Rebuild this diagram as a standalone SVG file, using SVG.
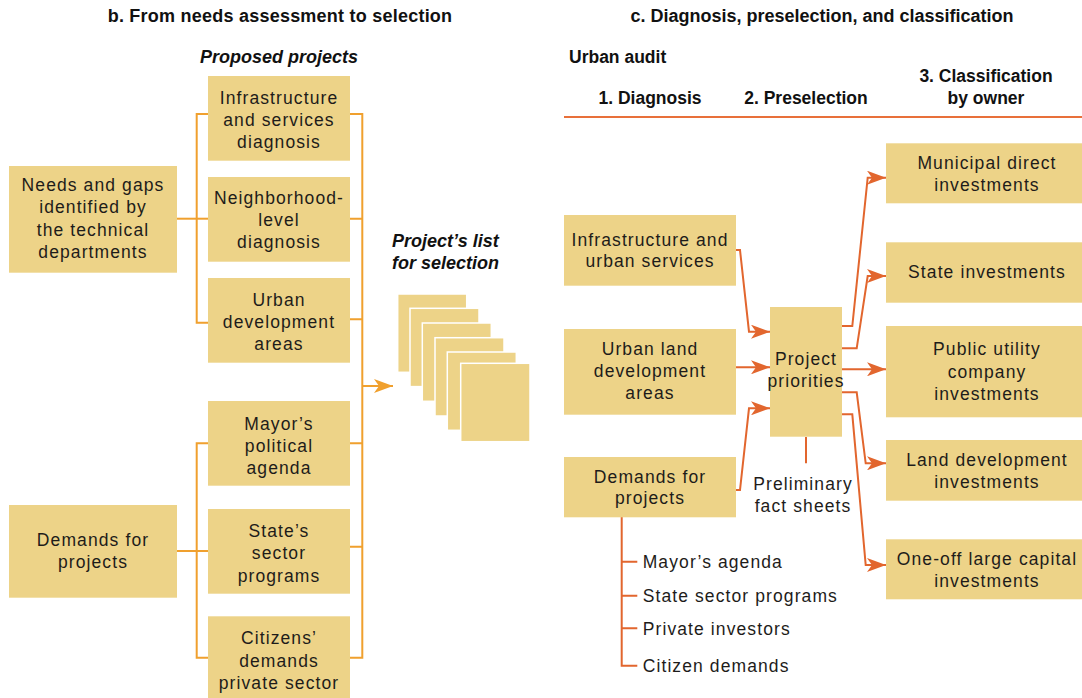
<svg xmlns="http://www.w3.org/2000/svg" width="1082" height="698" viewBox="0 0 1082 698">
  <style>
    .box { fill: #EDD388; }
    .page { fill: #EDD388; stroke: #FFFFFF; stroke-width: 1.5; }
    .t { font-family: "Liberation Sans", Arial, sans-serif; font-size: 17.5px; letter-spacing: 1.1px; fill: #1E1C1A; text-anchor: middle; }
    .tl { text-anchor: start; }
    .title { font-family: "Liberation Sans", Arial, sans-serif; font-size: 18px; font-weight: bold; fill: #111; text-anchor: middle; }
    .head { font-family: "Liberation Sans", Arial, sans-serif; font-size: 17.5px; font-weight: bold; fill: #111; }
    .bi { font-family: "Liberation Sans", Arial, sans-serif; font-size: 18px; font-weight: bold; font-style: italic; fill: #111; }
    .yl { fill: none; stroke: #F0A02E; stroke-width: 2; }
    .rl { fill: none; stroke: #E2662E; stroke-width: 2; }
  </style>
  <defs>
    <marker id="arrowY" markerUnits="userSpaceOnUse" viewBox="0 0 19 14" refX="19" refY="7" markerWidth="19" markerHeight="14" orient="auto">
      <path d="M0,0 L19,7 L0,14 L5,7 Z" fill="#F0A02E"/>
    </marker>
    <marker id="arrowR" markerUnits="userSpaceOnUse" viewBox="0 0 19 14" refX="19" refY="7" markerWidth="19" markerHeight="14" orient="auto">
      <path d="M0,0 L19,7 L0,14 L5,7 Z" fill="#E2662E"/>
    </marker>
  </defs>

  <rect width="1082" height="698" fill="#FFFFFF"/>

  <!-- section titles -->
  <text class="title" x="280" y="22" style="letter-spacing:0.23px">b. From needs assessment to selection</text>
  <text class="title" x="822" y="22">c. Diagnosis, preselection, and classification</text>
  <text class="bi" x="279" y="63" text-anchor="middle">Proposed projects</text>
  <text class="bi" x="392" y="247">Project’s list</text>
  <text class="bi" x="392" y="269">for selection</text>

  <!-- column headers of the urban audit -->
  <text class="head" x="569" y="63">Urban audit</text>
  <text class="head" x="650" y="104" text-anchor="middle">1. Diagnosis</text>
  <text class="head" x="806" y="104" text-anchor="middle">2. Preselection</text>
  <text class="head" x="986" y="82" text-anchor="middle">3. Classification</text>
  <text class="head" x="986" y="104" text-anchor="middle">by owner</text>

  <!-- connectors -->
  <g id="connectors">
    <!-- left panel brackets -->
    <path class="yl" d="M177,218.7 H208"/>
    <path class="yl" d="M208,114 H196.7 V322.7 H208"/>
    <path class="yl" d="M177,551 H208"/>
    <path class="yl" d="M208,443.3 H196.7 V657.7 H208"/>
    <path class="yl" d="M350,114 H362.3 V657.7 H350"/>
    <path class="yl" d="M350,218.7 H362.3 M350,319.3 H362.3 M350,443.3 H362.3 M350,546.7 H362.3"/>
    <path class="yl" d="M362.3,386 H393" marker-end="url(#arrowY)"/>

    <!-- header rule -->
    <path d="M564,117 H1082" stroke="#E8703A" stroke-width="2" fill="none"/>

    <!-- inputs to project priorities -->
    <path class="rl" d="M736,250 H740 L749,331.7 H770" marker-end="url(#arrowR)"/>
    <path class="rl" d="M736,367.3 H770" marker-end="url(#arrowR)"/>
    <path class="rl" d="M736,490 H740 L749,408.3 H770" marker-end="url(#arrowR)"/>
    <path class="rl" d="M806,437 V463.3"/>

    <!-- outputs to owners -->
    <path class="rl" d="M842,326 H852.3 L867.7,177.7 H886" marker-end="url(#arrowR)"/>
    <path class="rl" d="M842,348.3 H856.7 L867.7,276 H886" marker-end="url(#arrowR)"/>
    <path class="rl" d="M842,369.3 H886" marker-end="url(#arrowR)"/>
    <path class="rl" d="M842,392.3 H856.7 L865.7,463.3 H886" marker-end="url(#arrowR)"/>
    <path class="rl" d="M842,414.3 H852.3 L865.7,565 H886" marker-end="url(#arrowR)"/>

    <!-- demand sources list -->
    <path class="rl" d="M621.7,517 V665.7 H637.3"/>
    <path class="rl" d="M621.7,561.7 H637.3 M621.7,595.7 H637.3 M621.7,628.3 H637.3"/>
  </g>

  <!-- left panel nodes -->
  <g id="needs-gaps">
    <rect class="box" x="9" y="166" width="168" height="106.7"/>
    <text class="t" x="93" y="191">Needs and gaps</text>
    <text class="t" x="93" y="213">identified by</text>
    <text class="t" x="93" y="235.5">the technical</text>
    <text class="t" x="93" y="257.5">departments</text>
  </g>
  <g id="infra-diagnosis">
    <rect class="box" x="208" y="76" width="142" height="84.7"/>
    <text class="t" x="279" y="103.5">Infrastructure</text>
    <text class="t" x="279" y="125.7">and services</text>
    <text class="t" x="279" y="147.8">diagnosis</text>
  </g>
  <g id="neighborhood-diagnosis">
    <rect class="box" x="208" y="177" width="142" height="84.7"/>
    <text class="t" x="279" y="204">Neighborhood-</text>
    <text class="t" x="279" y="226">level</text>
    <text class="t" x="279" y="248">diagnosis</text>
  </g>
  <g id="urban-dev-areas">
    <rect class="box" x="208" y="278" width="142" height="84.7"/>
    <text class="t" x="279" y="305.7">Urban</text>
    <text class="t" x="279" y="327.8">development</text>
    <text class="t" x="279" y="350">areas</text>
  </g>
  <g id="demands-left">
    <rect class="box" x="9" y="505" width="168" height="92.7"/>
    <text class="t" x="93" y="545.7">Demands for</text>
    <text class="t" x="93" y="568.3">projects</text>
  </g>
  <g id="mayor-agenda">
    <rect class="box" x="208" y="401" width="142" height="84.7"/>
    <text class="t" x="279" y="430">Mayor’s</text>
    <text class="t" x="279" y="452.3">political</text>
    <text class="t" x="279" y="474">agenda</text>
  </g>
  <g id="state-programs">
    <rect class="box" x="208" y="509" width="142" height="84.7"/>
    <text class="t" x="279" y="536.7">State’s</text>
    <text class="t" x="279" y="559">sector</text>
    <text class="t" x="279" y="581.7">programs</text>
  </g>
  <g id="citizens-demands">
    <rect class="box" x="208" y="616.3" width="142" height="82"/>
    <text class="t" x="279" y="643.5">Citizens’</text>
    <text class="t" x="279" y="666.5">demands</text>
    <text class="t" x="279" y="688.5">private sector</text>
  </g>

  <!-- stacked project sheets -->
  <g id="project-list">
    <rect class="page" x="397.7" y="294" width="69" height="78.3"/>
    <rect class="page" x="410" y="308.3" width="69" height="78.3"/>
    <rect class="page" x="422.3" y="323" width="69" height="78.3"/>
    <rect class="page" x="435" y="337.7" width="69" height="78.3"/>
    <rect class="page" x="447.3" y="352" width="69" height="78.3"/>
    <rect class="page" x="460.7" y="363.3" width="69.3" height="78.4"/>
  </g>

  <!-- right panel nodes -->
  <g id="infra-urban">
    <rect class="box" x="564" y="215" width="172" height="70.7"/>
    <text class="t" x="650" y="245.7">Infrastructure and</text>
    <text class="t" x="650" y="267.3">urban services</text>
  </g>
  <g id="urban-land">
    <rect class="box" x="564" y="329" width="172" height="85.7"/>
    <text class="t" x="650" y="355">Urban land</text>
    <text class="t" x="650" y="377">development</text>
    <text class="t" x="650" y="399">areas</text>
  </g>
  <g id="demands-right">
    <rect class="box" x="564" y="457" width="172" height="60.3"/>
    <text class="t" x="650" y="482.7">Demands for</text>
    <text class="t" x="650" y="504.3">projects</text>
  </g>
  <g id="project-priorities">
    <rect class="box" x="770" y="307" width="72" height="129.7"/>
    <text class="t" x="806" y="365">Project</text>
    <text class="t" x="806" y="386.7">priorities</text>
  </g>
  <g id="fact-sheets">
    <text class="t" x="803" y="490">Preliminary</text>
    <text class="t" x="803" y="511.7">fact sheets</text>
  </g>
  <g id="demand-sources">
    <text class="t tl" x="642.7" y="567.7">Mayor’s agenda</text>
    <text class="t tl" x="642.7" y="601.7">State sector programs</text>
    <text class="t tl" x="642.7" y="635">Private investors</text>
    <text class="t tl" x="642.7" y="671.5">Citizen demands</text>
  </g>
  <g id="municipal">
    <rect class="box" x="886" y="143.3" width="196" height="60"/>
    <text class="t" x="987" y="169">Municipal direct</text>
    <text class="t" x="987" y="190.5">investments</text>
  </g>
  <g id="state">
    <rect class="box" x="886" y="242.3" width="196" height="60.4"/>
    <text class="t" x="987" y="278.3">State investments</text>
  </g>
  <g id="public-utility">
    <rect class="box" x="886" y="326" width="196" height="91.3"/>
    <text class="t" x="987" y="355">Public utility</text>
    <text class="t" x="987" y="377.5">company</text>
    <text class="t" x="987" y="399.5">investments</text>
  </g>
  <g id="land-development">
    <rect class="box" x="886" y="440" width="196" height="60.7"/>
    <text class="t" x="987" y="465.5">Land development</text>
    <text class="t" x="987" y="487.7">investments</text>
  </g>
  <g id="one-off">
    <rect class="box" x="886" y="539.3" width="196" height="60"/>
    <text class="t" x="987" y="564.5">One-off large capital</text>
    <text class="t" x="987" y="586.5">investments</text>
  </g>
</svg>
